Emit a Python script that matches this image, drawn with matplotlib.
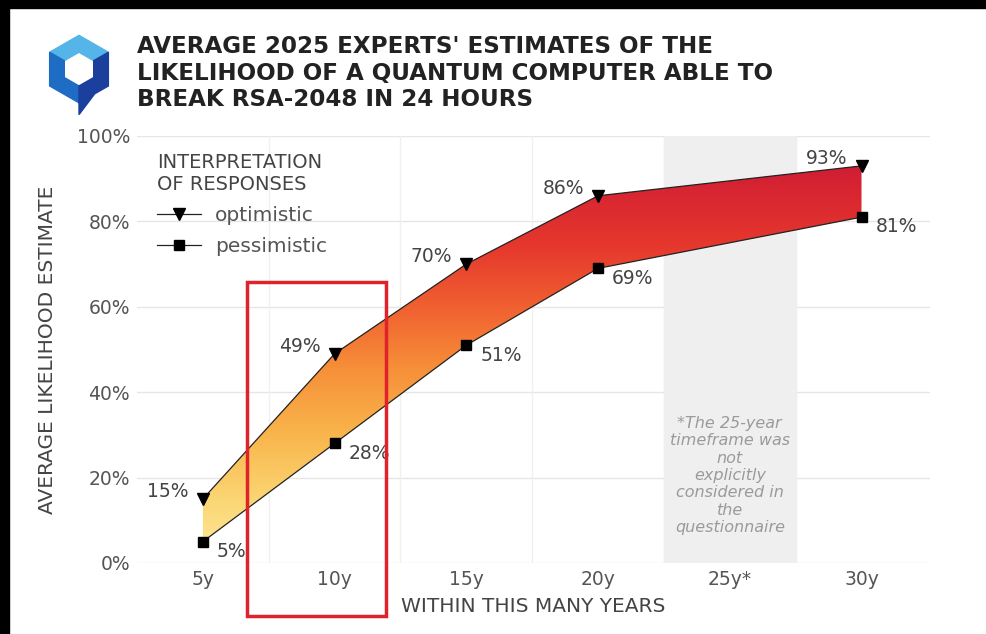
import matplotlib
matplotlib.use('Agg')
import matplotlib.pyplot as plt
import numpy as np
from matplotlib.colors import LinearSegmentedColormap
from matplotlib.patches import Rectangle, Polygon

# data
years = [5, 10, 15, 20, 30]
optimistic = [15, 49, 70, 86, 93]
pessimistic = [5, 28, 51, 69, 81]
tick_pos = [5, 10, 15, 20, 25, 30]
tick_labels = ['5y', '10y', '15y', '20y', '25y*', '30y']
title = ("AVERAGE 2025 EXPERTS' ESTIMATES OF THE\n"
         "LIKELIHOOD OF A QUANTUM COMPUTER ABLE TO\n"
         "BREAK RSA-2048 IN 24 HOURS")
note = "*The 25-year\ntimeframe was\nnot\nexplicitly\nconsidered in\nthe\nquestionnaire"

grey = '#555555'
fig = plt.figure(figsize=(9.87, 6.34), dpi=100)
ax = fig.add_axes([137/987, 1-563/634, (930-137)/987, (563-136)/634])

# grid
for y in range(0, 101, 20):
    ax.axhline(y, color='#e6e6e6', lw=1, zorder=0)
for x in [7.5, 12.5, 17.5, 22.5, 27.5]:
    ax.axvline(x, color='#f0f0f0', lw=1, zorder=0)
ax.axvspan(22.5, 27.5, color='#efefef', zorder=0)
for s in ax.spines.values():
    s.set_visible(False)

# gradient band
cmap = LinearSegmentedColormap.from_list('heat', [
    (0.0, '#fde9a0'), (0.15, '#fbd775'), (0.32, '#f9b44b'), (0.48, '#f68f39'),
    (0.62, '#f16331'), (0.78, '#e6382d'), (1.0, '#cf1a35')])
band = ax.fill_between(years, pessimistic, optimistic, color='none', lw=0)
grad = np.linspace(0, 1, 256).reshape(-1, 1)
im = ax.imshow(grad, cmap=cmap, origin='lower', aspect='auto',
               extent=[2.5, 32.6, 0, 95], zorder=1)
im.set_clip_path(band.get_paths()[0], transform=ax.transData)
ax.set_xlim(2.5, 32.6)
ax.set_ylim(0, 100)

ax.plot(years, optimistic, color='#222222', lw=0.9, marker='v', ms=8.5,
        markerfacecolor='black', markeredgecolor='black', zorder=3, label='optimistic')
ax.plot(years, pessimistic, color='#222222', lw=0.9, marker='s', ms=7.5,
        markerfacecolor='black', markeredgecolor='black', zorder=3, label='pessimistic')

for x, o, p in zip(years, optimistic, pessimistic):
    ax.annotate(f'{o}%', (x, o), xytext=(-10, 1.5), textcoords='offset points',
                ha='right', va='baseline', fontsize=13.5, color='#444444')
    ax.annotate(f'{p}%', (x, p), xytext=(10, -11), textcoords='offset points',
                ha='left', va='baseline', fontsize=13.5, color='#444444')

ax.text(25, 20.5, note, ha='center', va='center', fontsize=11.5, style='italic',
        color='#9a9a9a', linespacing=1.2)

ax.set_xticks(tick_pos, tick_labels)
ax.set_yticks(range(0, 101, 20), [f'{v}%' for v in range(0, 101, 20)])
ax.tick_params(length=0, labelsize=13.5, labelcolor=grey, pad=5)
ax.set_xlabel('WITHIN THIS MANY YEARS', fontsize=14.5, color='#444444', labelpad=6)
ax.set_ylabel('AVERAGE LIKELIHOOD ESTIMATE', fontsize=14.5, color='#444444', labelpad=14)

leg = ax.legend(loc='upper left', bbox_to_anchor=(0.025, 0.96), frameon=False,
                title='INTERPRETATION\nOF RESPONSES', alignment='left',
                fontsize=14.5, title_fontsize=14, handlelength=2.2, handletextpad=0.7,
                labelspacing=0.6, borderaxespad=0, borderpad=0)
for t in leg.get_texts():
    t.set_color(grey)
leg.get_title().set_color('#444444')

# highlight box around the 10y column
ax.add_patch(Rectangle((6.67, -12.4), 5.27, 78.2, fill=False, edgecolor='#e0232b',
                       lw=2.5, clip_on=False, zorder=4))

fig.text(137/987, 1-35/634, title, ha='left', va='top', fontsize=16.6,
         fontweight='bold', color='#222222', linespacing=1.2)

# logo
lax = fig.add_axes([40/987, 1-118/634, 78/987, 86/634])
lax.set_xlim(-1.15, 1.15)
lax.set_ylim(-1.45, 1.1)
lax.axis('off')
ang = np.deg2rad([90, 150, 210, 270, 330, 30])
outer = np.c_[np.cos(ang), np.sin(ang)]
inner = 0.5 * outer
def seg(i, j, k):
    return np.array([outer[i], outer[j], outer[k], inner[k], inner[j], inner[i]])
lax.add_patch(Polygon(seg(5, 0, 1), color='#55b4e8'))
lax.add_patch(Polygon(seg(1, 2, 3), color='#1f6cc4'))
lax.add_patch(Polygon(seg(3, 4, 5), color='#1b3f9c'))
lax.add_patch(Polygon([[0.05, -0.55], [0.0, -1.0], [0.0, -1.35], [0.45, -0.75]],
                      color='#1b3f9c'))

# dark frame edges of the screenshot
fig.patches.append(Rectangle((0, 1-8/634), 1, 8/634, transform=fig.transFigure,
                             color='black', zorder=10))
fig.patches.append(Rectangle((0, 0), 9/987, 1, transform=fig.transFigure,
                             color='black', zorder=10))

fig.savefig('out.png', dpi=100)
